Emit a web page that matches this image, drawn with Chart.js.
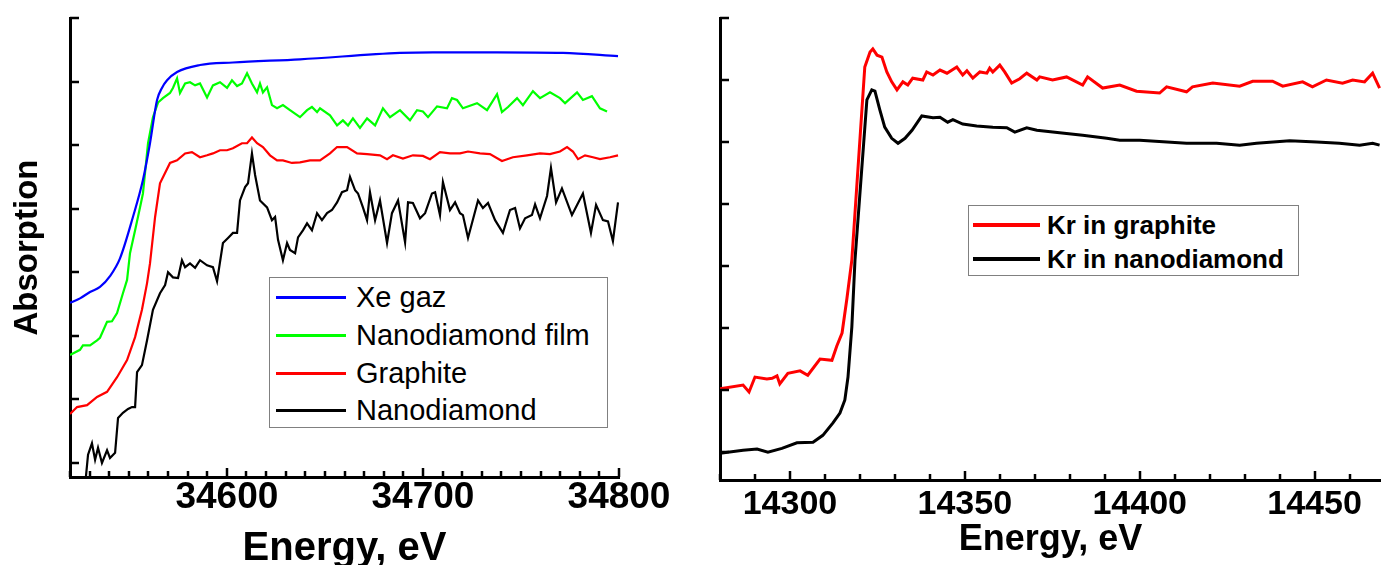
<!DOCTYPE html>
<html>
<head>
<meta charset="utf-8">
<script src="https://cdn.jsdelivr.net/npm/chart.js@4.4.0/dist/chart.umd.min.js"></script>
<style>
  html, body { margin: 0; padding: 0; background: #fff; }
  #wrap { position: relative; width: 1381px; height: 565px; overflow: hidden; font-family: 'Liberation Sans', Arial, sans-serif; }
  canvas { position: absolute; top: 0; }
  #c-xe { left: 0; }
  #c-kr { left: 690px; }
  .legend { position: absolute; background: #fff; border: 1px solid #808080; box-sizing: border-box; }
  .legend .row { display: flex; align-items: center; white-space: nowrap; color: #000; }
  .legend .swatch { display: inline-block; flex: none; }
</style>
</head>
<body>
<div id="wrap">
  <canvas id="c-xe" width="690" height="565"></canvas>
  <canvas id="c-kr" width="691" height="565"></canvas>
  <div class="legend" id="lg-xe" style="left:269px;top:277px;width:339px;height:151px;padding-top:1px"></div>
  <div class="legend" id="lg-kr" style="left:968px;top:205px;width:331px;height:71px;padding-top:2px"></div>
</div>
<script>
// Xe K-edge (left) and Kr K-edge (right) absorption spectra

// ---- left panel: Xe ----
const XE_TICKS = [34600, 34700, 34800];

const XE_GAZ_E = [34520, 34525.1, 34530.2, 34535.3, 34540.4, 34545.5, 34552.1, 34557.2, 34560.8, 34564.4, 34566.9, 34569.5, 34574.6, 34586.3, 34603.1, 34637.3, 34688.3, 34705.1, 34737.8, 34771.4, 34799.5];
const XE_GAZ_A = [25.2, 25.9, 26.9, 27.7, 29.4, 32.2, 38.7, 44.5, 50.3, 57.1, 59.0, 60.2, 61.5, 62.6, 63.0, 63.5, 64.5, 64.6, 64.6, 64.5, 64.0];

const ND_FILM_E = [34520, 34525.1, 34526.6, 34530.2, 34533.8, 34535.3, 34538.9, 34541.4, 34544.0, 34547.0, 34549.1, 34550.6, 34553.2, 34555.7, 34557.2, 34559.8, 34562.3, 34564.9, 34567.4, 34571.0, 34572.5, 34574.6, 34576.1, 34578.7, 34581.2, 34583.8, 34586.3, 34589.9, 34592.9, 34596.5, 34600.1, 34602.6, 34605.2, 34607.7, 34610.3, 34612.8, 34615.4, 34616.9, 34618.4, 34620.5, 34623.0, 34625.6, 34628.6, 34632.2, 34637.3, 34640.9, 34643.4, 34646.0, 34647.5, 34652.6, 34656.2, 34659.2, 34661.8, 34664.3, 34667.9, 34671.5, 34675.6, 34679.6, 34683.2, 34688.3, 34693.4, 34697.0, 34700.0, 34702.6, 34707.2, 34712.3, 34714.8, 34717.4, 34720.4, 34727.6, 34732.7, 34737.8, 34740.3, 34743.4, 34748.0, 34751.0, 34756.1, 34759.7, 34764.8, 34769.9, 34772.5, 34778.6, 34781.6, 34786.2, 34790.3, 34793.9];
const ND_FILM_A = [17.0, 17.8, 18.5, 18.5, 19.3, 19.7, 22.2, 22.3, 23.6, 26.7, 28.8, 33.0, 36.6, 40.2, 42.4, 50.3, 54.4, 56.7, 57.4, 58.2, 59.0, 60.5, 58.2, 59.7, 59.9, 59.4, 59.7, 57.5, 59.4, 59.9, 59.0, 60.2, 59.3, 59.7, 61.3, 59.7, 58.3, 59.7, 58.3, 59.1, 56.3, 55.8, 56.3, 55.5, 54.4, 55.5, 56.0, 55.2, 55.8, 54.7, 53.1, 53.9, 53.1, 54.2, 52.7, 54.2, 53.1, 55.8, 54.4, 55.5, 53.9, 55.5, 55.3, 54.4, 56.1, 55.8, 57.4, 57.1, 55.8, 56.6, 55.5, 58.0, 55.2, 56.0, 57.4, 56.3, 58.5, 57.4, 58.3, 57.4, 56.6, 58.3, 57.1, 57.7, 55.8, 55.3];

const GRAPHITE_E = [34520, 34523.6, 34528.7, 34533.8, 34538.9, 34544.0, 34549.1, 34553.2, 34556.7, 34559.3, 34560.8, 34563.4, 34565.9, 34571.0, 34574.6, 34578.7, 34582.2, 34586.3, 34589.9, 34592.9, 34596.5, 34600.1, 34603.1, 34607.7, 34610.3, 34612.8, 34615.4, 34618.4, 34622.0, 34625.6, 34628.6, 34633.2, 34637.3, 34642.4, 34647.5, 34652.6, 34656.2, 34661.3, 34666.4, 34671.5, 34678.1, 34681.7, 34684.7, 34689.8, 34694.9, 34700.0, 34703.6, 34708.7, 34713.8, 34718.9, 34723.0, 34729.1, 34734.2, 34740.3, 34745.9, 34753.1, 34759.7, 34764.8, 34769.9, 34773.5, 34776.5, 34779.1, 34782.7, 34786.7, 34790.3, 34795.4, 34799.5];
const GRAPHITE_A = [7.7, 8.8, 9.1, 10.4, 11.2, 13.5, 16.2, 19.8, 24.1, 28.3, 31.4, 38.7, 44.0, 47.2, 47.6, 48.7, 48.9, 48.1, 48.4, 48.7, 49.2, 49.2, 49.5, 50.3, 50.3, 51.2, 50.3, 49.7, 48.4, 47.6, 47.6, 47.2, 47.3, 47.6, 47.6, 48.7, 49.7, 49.7, 48.7, 48.6, 48.4, 47.8, 48.4, 47.9, 48.4, 48.3, 47.8, 48.9, 48.7, 48.7, 49.0, 48.7, 48.6, 47.5, 48.1, 48.4, 48.7, 48.6, 49.0, 49.7, 49.0, 47.8, 48.4, 48.1, 47.8, 48.1, 48.4];

const ND_E = [34527.7, 34529.2, 34531.2, 34532.8, 34534.3, 34536.3, 34538.9, 34540.4, 34543.0, 34544.5, 34547.0, 34549.6, 34551.6, 34553.2, 34554.2, 34556.7, 34559.3, 34562.3, 34565.9, 34568.5, 34570.0, 34572.5, 34575.1, 34577.1, 34578.7, 34581.2, 34583.8, 34586.3, 34589.9, 34592.9, 34595.0, 34598.0, 34600.6, 34603.1, 34605.2, 34606.7, 34609.3, 34610.8, 34612.8, 34614.4, 34616.9, 34620.5, 34623.0, 34624.6, 34626.1, 34628.6, 34630.7, 34632.2, 34634.8, 34636.3, 34638.8, 34640.9, 34643.4, 34646.0, 34648.5, 34651.1, 34653.6, 34656.2, 34658.7, 34661.3, 34662.8, 34665.4, 34666.9, 34669.4, 34671.5, 34673.0, 34675.6, 34678.1, 34681.7, 34684.2, 34687.3, 34690.9, 34692.4, 34694.9, 34698.5, 34701.1, 34704.6, 34706.2, 34708.7, 34710.2, 34713.8, 34716.4, 34718.9, 34720.4, 34723.0, 34728.1, 34730.6, 34733.2, 34736.8, 34740.8, 34744.4, 34747.0, 34749.5, 34752.1, 34755.6, 34757.2, 34759.7, 34763.3, 34765.3, 34767.9, 34770.9, 34776.0, 34781.6, 34785.7, 34788.3, 34791.8, 34794.4, 34796.9, 34799.5];
const ND_A = [-3.5, 1.3, 3.1, 0.5, 2.4, 0.0, 2.0, 0.8, 1.6, 7.1, 7.9, 8.5, 8.8, 8.8, 14.3, 15.4, 19.3, 24.1, 26.7, 28.0, 30.0, 29.2, 29.1, 31.9, 30.8, 31.4, 30.7, 31.9, 31.1, 30.8, 28.6, 34.6, 35.4, 36.2, 36.2, 41.3, 43.4, 44.0, 48.7, 45.3, 41.3, 40.2, 38.2, 38.7, 35.1, 31.9, 34.6, 33.5, 33.0, 35.5, 36.6, 37.7, 36.6, 39.3, 38.2, 39.3, 39.8, 41.0, 42.6, 42.9, 45.0, 42.9, 42.4, 40.2, 38.2, 42.6, 38.2, 41.3, 34.6, 39.3, 41.3, 34.7, 41.0, 40.9, 38.5, 39.3, 42.4, 42.6, 39.0, 44.2, 39.8, 41.0, 39.3, 39.0, 35.4, 41.3, 40.1, 40.9, 38.2, 36.2, 39.8, 40.1, 36.9, 38.5, 39.0, 40.7, 38.5, 42.0, 46.4, 41.0, 43.2, 39.0, 42.4, 36.2, 40.6, 38.2, 38.0, 34.9, 41.0];

// ---- right panel: Kr ----
const KR_TICKS = [14300, 14350, 14400, 14450];

const KR_GR_E = [14280.0, 14286.6, 14288.3, 14290.0, 14293.4, 14294.9, 14296.3, 14297.1, 14299.4, 14302.9, 14305.1, 14308.6, 14312.0, 14313.4, 14314.9, 14316.3, 14317.7, 14321.4, 14322.9, 14323.7, 14324.9, 14326.3, 14327.7, 14329.1, 14330.6, 14332.3, 14333.7, 14335.1, 14338.0, 14339.1, 14340.9, 14342.9, 14344.9, 14347.7, 14349.4, 14350.6, 14352.3, 14354.3, 14356.3, 14357.1, 14358.0, 14360.0, 14361.4, 14363.4, 14365.7, 14367.7, 14370.6, 14371.4, 14375.1, 14379.1, 14383.7, 14385.1, 14389.4, 14394.3, 14399.1, 14405.7, 14407.7, 14413.4, 14415.1, 14420.9, 14428.6, 14432.3, 14438.0, 14440.9, 14446.6, 14449.4, 14453.4, 14458.0, 14460.9, 14464.3, 14466.6, 14468.6];
const KR_GR_A = [10.2, 10.8, 9.7, 12.1, 11.8, 11.9, 12.3, 11.0, 12.7, 13.1, 12.4, 15.0, 14.8, 17.1, 19.2, 24.8, 31.0, 62.1, 64.5, 65.0, 64.0, 63.7, 61.3, 59.7, 58.4, 59.7, 59.2, 60.3, 60.0, 61.3, 60.8, 61.6, 61.1, 62.1, 60.8, 61.5, 60.3, 61.3, 61.1, 61.9, 61.3, 62.4, 61.3, 59.5, 60.2, 61.1, 60.0, 60.5, 60.0, 60.5, 59.2, 60.5, 58.7, 59.2, 58.2, 57.9, 58.9, 58.1, 58.9, 59.5, 59.0, 59.8, 59.8, 59.0, 59.7, 58.9, 60.0, 59.5, 60.0, 59.7, 61.1, 58.7];

const KR_ND_E = [14280.0, 14286.6, 14290.6, 14293.7, 14297.7, 14302.0, 14306.6, 14309.4, 14312.3, 14314.3, 14315.7, 14316.6, 14317.7, 14318.6, 14322.0, 14323.4, 14324.3, 14325.7, 14327.1, 14329.1, 14330.9, 14332.9, 14334.9, 14337.7, 14340.9, 14342.9, 14345.1, 14346.6, 14349.4, 14353.4, 14358.0, 14362.0, 14364.3, 14367.7, 14370.6, 14377.1, 14383.7, 14390.6, 14394.3, 14400.0, 14413.4, 14422.0, 14428.6, 14433.4, 14442.9, 14450.6, 14457.1, 14462.9, 14466.6, 14468.6];
const KR_ND_A = [-0.2, 0.3, 0.5, 0.0, 0.6, 1.5, 1.6, 2.7, 4.7, 6.3, 8.4, 12.1, 20.2, 31.0, 56.8, 58.4, 58.2, 55.2, 52.4, 50.6, 49.8, 50.6, 51.9, 54.2, 53.9, 54.0, 53.2, 53.6, 52.9, 52.6, 52.4, 52.3, 51.6, 52.3, 51.9, 51.5, 51.1, 50.6, 50.3, 50.3, 49.8, 49.8, 49.5, 49.8, 50.2, 50.0, 49.8, 49.5, 49.8, 49.5];

const FONT = "'Liberation Sans', Arial, sans-serif";
const zip = (xs, ys) => xs.map((x, i) => ({ x, y: ys[i] }));
const everyTen = (lo, hi) => { const t = []; for (let v = lo; v <= hi; v += 10) t.push(v); return t; };
const yTicks = [0, 10, 20, 30, 40, 50, 60, 70];

// ticks in this figure point into the plot, majors longer than minors
const innerTicks = {
  id: 'innerTicks',
  afterDraw(chart, args, opts) {
    const { ctx, chartArea: a, scales: { x, y } } = chart;
    ctx.save();
    ctx.strokeStyle = '#000';
    ctx.lineWidth = 2.5;
    ctx.beginPath();
    x.ticks.forEach(t => {
      const px = Math.round(x.getPixelForValue(t.value));
      const len = opts.major.includes(t.value) ? 9 : 6;
      ctx.moveTo(px, a.bottom); ctx.lineTo(px, a.bottom - len);
    });
    y.ticks.forEach(t => {
      const py = Math.round(y.getPixelForValue(t.value));
      ctx.moveTo(a.left, py); ctx.lineTo(a.left + 9, py);
    });
    ctx.stroke();
    ctx.restore();
  }
};

function line(label, data, color, width, smooth) {
  return {
    label, data, borderColor: color, backgroundColor: color, borderWidth: width,
    pointRadius: 0, tension: 0, cubicInterpolationMode: smooth ? 'monotone' : 'default', fill: false,
  };
}

function makeChart(id, cfg) {
  return new Chart(document.getElementById(id), {
    type: 'line',
    data: { datasets: cfg.datasets },
    plugins: [innerTicks],
    options: {
      responsive: false, animation: false, parsing: false,
      layout: { padding: { top: 18, right: cfg.padRight, left: 0, bottom: 0 } },
      plugins: { legend: { display: false }, tooltip: { enabled: false }, innerTicks: { major: cfg.major } },
      scales: {
        x: {
          type: 'linear', min: cfg.xmin, max: cfg.xmax,
          afterBuildTicks: s => { s.ticks = everyTen(cfg.tickFrom, cfg.xmax).map(v => ({ value: v })); },
          afterFit: s => { s.height = cfg.xHeight; },
          grid: { display: false, drawTicks: false },
          border: { display: true, color: '#000', width: 3 },
          ticks: {
            autoSkip: false, maxRotation: 0, minRotation: 0, color: '#000', padding: cfg.tickPad,
            font: { family: FONT, size: cfg.tickSize, weight: 'bold', lineHeight: 1 },
            callback: v => cfg.major.includes(v) ? String(v) : '',
          },
          title: {
            display: true, text: 'Energy, eV', color: '#000',
            font: { family: FONT, size: cfg.titleSize, weight: 'bold', lineHeight: 1 },
            padding: { top: 0, bottom: cfg.titlePad },
          },
        },
        y: {
          type: 'linear', min: cfg.ymin, max: 70,
          afterBuildTicks: s => { s.ticks = yTicks.map(v => ({ value: v })); },
          afterFit: s => { s.width = cfg.yWidth; },
          grid: { display: false, drawTicks: false },
          border: { display: true, color: '#000', width: 3 },
          ticks: { display: false },
          title: {
            display: !!cfg.yTitle, text: cfg.yTitle || '', color: '#000',
            font: { family: FONT, size: 33, weight: 'bold', lineHeight: 1 },
            padding: { top: 11, bottom: 0 },
          },
        },
      },
    },
  });
}

const xeChart = makeChart('c-xe', {
  datasets: [
    line('Xe gaz', zip(XE_GAZ_E, XE_GAZ_A), '#0000ff', 2.2, true),
    line('Nanodiamond film', zip(ND_FILM_E, ND_FILM_A), '#00ff00', 2.2),
    line('Graphite', zip(GRAPHITE_E, GRAPHITE_A), '#ff0000', 2.2),
    line('Nanodiamond', zip(ND_E, ND_A), '#000000', 2.2),
  ],
  xmin: 34520, xmax: 34800, tickFrom: 34520, major: XE_TICKS,
  ymin: -2.2, yWidth: 70, yTitle: 'Absorption',
  xHeight: 88, padRight: 71, tickSize: 37, tickPad: 2, titleSize: 40, titlePad: -4,
});

const krChart = makeChart('c-kr', {
  datasets: [
    line('Kr in graphite', zip(KR_GR_E, KR_GR_A), '#ff0000', 3),
    line('Kr in nanodiamond', zip(KR_ND_E, KR_ND_A), '#000000', 3),
  ],
  xmin: 14280, xmax: 14469, tickFrom: 14280, major: KR_TICKS,
  ymin: -4.5, yWidth: 30, yTitle: null,
  xHeight: 85, padRight: 0, tickSize: 34, tickPad: 8, titleSize: 36, titlePad: 7,
});

// legends sit inside the plots, built from the dataset labels and colours
function buildLegend(el, chart, o) {
  chart.data.datasets.forEach(ds => {
    const row = document.createElement('div');
    row.className = 'row';
    row.style.height = o.rowH + 'px';
    row.style.font = o.font;
    const sw = document.createElement('span');
    sw.className = 'swatch';
    sw.style.cssText = `width:${o.swW}px;height:${o.swH}px;background:${ds.borderColor};margin-left:${o.swL}px;margin-right:${o.gap}px`;
    const tx = document.createElement('span');
    tx.textContent = ds.label;
    row.appendChild(sw);
    row.appendChild(tx);
    el.appendChild(row);
  });
}

buildLegend(document.getElementById('lg-xe'), xeChart, { rowH: 37.7, font: `29px ${FONT}`, swW: 70, swH: 3, swL: 6, gap: 10 });
buildLegend(document.getElementById('lg-kr'), krChart, { rowH: 34, font: `bold 26px ${FONT}`, swW: 67, swH: 4, swL: 4, gap: 7 });
</script>
</body>
</html>
